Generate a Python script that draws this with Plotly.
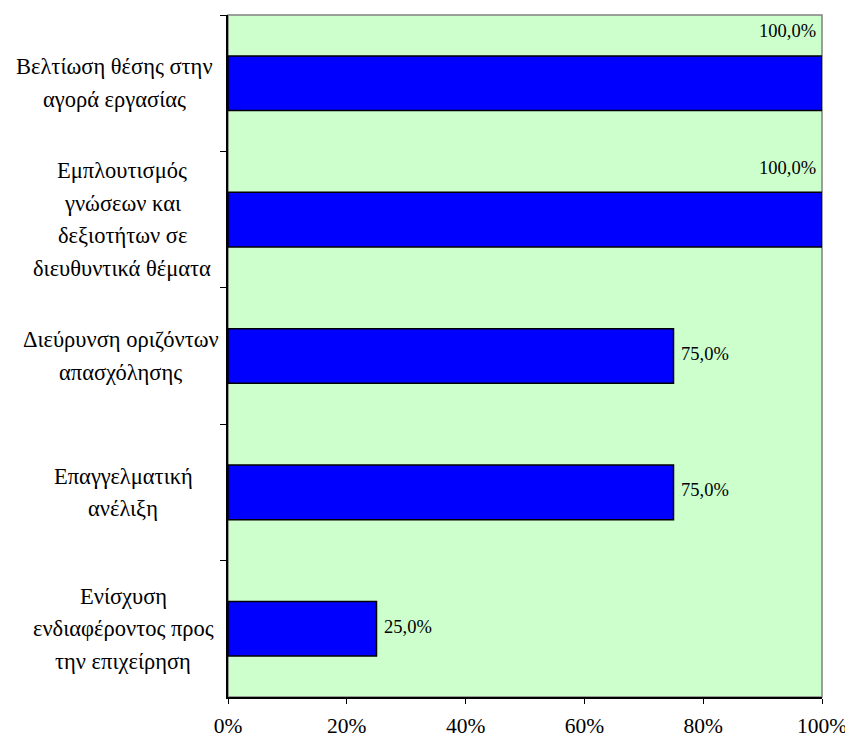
import plotly.graph_objects as go

categories = [
    "Βελτίωση θέσης στην<br>αγορά εργασίας",
    "Εμπλουτισμός<br>γνώσεων και<br>δεξιοτήτων σε<br>διευθυντικά θέματα",
    "Διεύρυνση οριζόντων<br>απασχόλησης",
    "Επαγγελματική<br>ανέλιξη",
    "Ενίσχυση<br>ενδιαφέροντος προς<br>την επιχείρηση",
]
values = [100.0, 100.0, 75.0, 75.0, 25.0]
value_labels = ["100,0%", "100,0%", "75,0%", "75,0%", "25,0%"]
x_ticks = [0, 20, 40, 60, 80, 100]
x_tick_labels = ["0%", "20%", "40%", "60%", "80%", "100%"]

FONT = "Liberation Serif, Times New Roman, serif"

# The page body has an 8px default margin; size the figure so the plot area
# lands where the reference has it inside the 853x738 window.
W, H = 845, 730
ML, MR, MT, MB = 220, 31, 7, 41
PLOT_W = W - ML - MR

# horizontal centres (px from plot's left edge) of the wrapped category labels
label_centres_px = [-114, -106, -107, -105, -105]

fig = go.Figure()
fig.add_trace(go.Bar(
    y=categories, x=values, orientation="h",
    width=0.4,
    marker=dict(color="#0000FF", line=dict(color="#000000", width=1.5)),
    hoverinfo="skip",
))

annotations = []
LINE = 32.5
for cat, cx in zip(categories, label_centres_px):
    lines = cat.split("<br>")
    n = len(lines)
    for i, ln in enumerate(lines):
        annotations.append(dict(
            xref="paper", yref="y", x=cx / PLOT_W, y=cat, text=ln,
            showarrow=False, xanchor="center", yanchor="middle",
            yshift=((n - 1) / 2 - i) * LINE,
            font=dict(family=FONT, size=22.5, color="black"),
        ))

for cat, v, lab in zip(categories, values, value_labels):
    if v >= 100:
        annotations.append(dict(
            xref="x", yref="y", x=v, y=cat, text=lab, showarrow=False,
            xanchor="right", yanchor="middle", xshift=-4, yshift=52,
            font=dict(family=FONT, size=18.5, color="black"),
        ))
    else:
        annotations.append(dict(
            xref="x", yref="y", x=v, y=cat, text=lab, showarrow=False,
            xanchor="left", yanchor="middle", xshift=5, yshift=2,
            font=dict(family=FONT, size=18.5, color="black"),
        ))

fig.update_layout(
    width=W, height=H,
    margin=dict(l=ML, r=MR, t=MT, b=MB, autoexpand=False),
    paper_bgcolor="white",
    plot_bgcolor="#CCFFCC",
    showlegend=False,
    font=dict(family=FONT, size=21, color="black"),
    annotations=annotations,
    shapes=[dict(type="rect", xref="paper", yref="paper", x0=0, y0=0, x1=1, y1=1,
                 line=dict(color="#808080", width=1.5), layer="below")],
    xaxis=dict(
        range=[0, 100], tickvals=x_ticks, ticktext=x_tick_labels,
        showgrid=False, zeroline=False, automargin=False,
        showline=True, linecolor="black", linewidth=1.5,
        ticks="outside", ticklen=5, tickcolor="black", tickwidth=1,
        ticklabelstandoff=3,
        tickfont=dict(family=FONT, size=21.5, color="black"),
        fixedrange=True,
    ),
    yaxis=dict(
        autorange="reversed", type="category",
        tickson="boundaries", showticklabels=False,
        showgrid=False, zeroline=False, automargin=False,
        showline=True, linecolor="black", linewidth=1.5,
        ticks="outside", ticklen=6, tickcolor="black", tickwidth=1,
        fixedrange=True,
    ),
)

fig.write_html("out.html")
